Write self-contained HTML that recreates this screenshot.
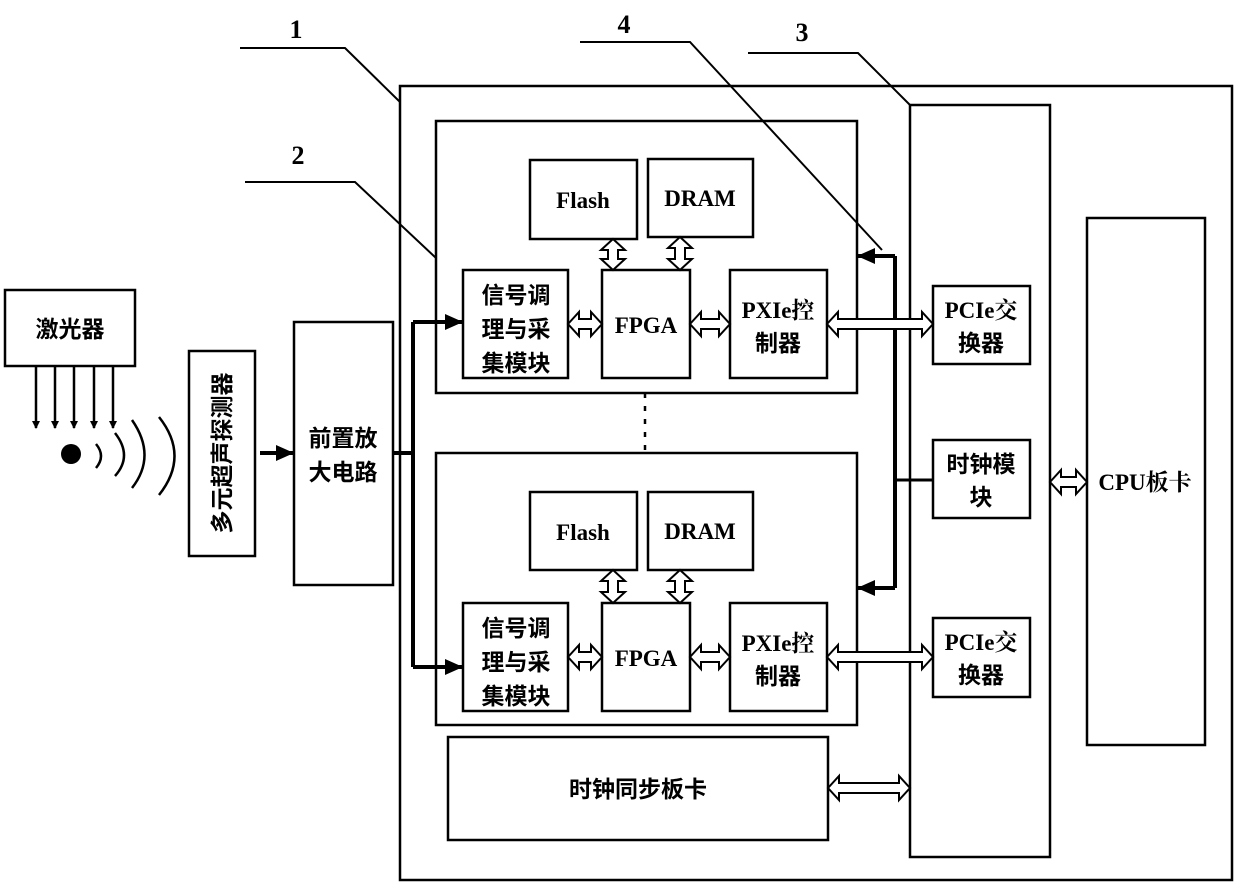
<!DOCTYPE html>
<html><head><meta charset="utf-8"><style>
html,body{margin:0;padding:0;background:#fff;}
svg{display:block;}
text{font-family:"Liberation Serif","Noto Serif CJK SC","Noto Sans CJK SC",serif;font-weight:bold;fill:#000;}
.c{font-family:"Liberation Sans","Noto Sans CJK SC",sans-serif;font-weight:bold;}
</style></head><body>
<svg width="1240" height="888" viewBox="0 0 1240 888" xmlns="http://www.w3.org/2000/svg">
<defs>
<marker id="ahs" markerWidth="8" markerHeight="8" refX="7" refY="4" orient="auto" markerUnits="userSpaceOnUse">
<path d="M0,0 L8,4 L0,8 z" fill="#000"/></marker>
<marker id="ahb" markerWidth="18" markerHeight="16" refX="17" refY="8" orient="auto" markerUnits="userSpaceOnUse">
<path d="M0,0 L18,8 L0,16 z" fill="#000"/></marker>
</defs>
<g fill="none" stroke="#000" stroke-width="2.5">
<rect x="400" y="86" width="832" height="794"/>
<rect x="910" y="105" width="140" height="752"/>
<rect x="1087" y="218" width="118" height="527"/>
<rect x="436" y="121" width="421" height="272"/>
<rect x="436" y="453" width="421" height="272"/>
<rect x="530" y="160" width="107" height="79"/>
<rect x="648" y="159" width="105" height="78"/>
<rect x="463" y="270" width="105" height="108"/>
<rect x="602" y="270" width="88" height="108"/>
<rect x="730" y="270" width="97" height="108"/>
<rect x="530" y="492" width="107" height="78"/>
<rect x="648" y="492" width="105" height="78"/>
<rect x="463" y="603" width="105" height="108"/>
<rect x="602" y="603" width="88" height="108"/>
<rect x="730" y="603" width="97" height="108"/>
<rect x="933" y="286" width="97" height="78"/>
<rect x="933" y="440" width="97" height="78"/>
<rect x="933" y="618" width="97" height="79"/>
<rect x="448" y="737" width="380" height="103"/>
<rect x="5" y="290" width="130" height="76"/>
<rect x="189" y="351" width="66" height="205"/>
<rect x="294" y="322" width="99" height="263"/>
<polyline points="240,48 345,48 400,102" stroke-width="2"/>
<polyline points="245,182 355,182 436,258" stroke-width="2"/>
<polyline points="580,42 690,42 882,250" stroke-width="2"/>
<polyline points="748,53 858,53 910,105" stroke-width="2"/>
<line x1="645" y1="393" x2="645" y2="453" stroke-dasharray="5,8"/>
</g>
<g fill="none" stroke="#000" stroke-width="4">
<polyline points="393,453 413,453"/>
<line x1="413" y1="322" x2="413" y2="667"/>
<line x1="413" y1="322" x2="462" y2="322" marker-end="url(#ahb)"/>
<line x1="413" y1="667" x2="462" y2="667" marker-end="url(#ahb)"/>
<line x1="895" y1="256" x2="895" y2="588"/>
<line x1="895" y1="256" x2="858" y2="256" marker-end="url(#ahb)"/>
<line x1="895" y1="588" x2="858" y2="588" marker-end="url(#ahb)"/>
<line x1="895" y1="480" x2="933" y2="480" stroke-width="3"/>
<line x1="260" y1="453" x2="293" y2="453" marker-end="url(#ahb)"/>
</g>
<g stroke="#000" stroke-width="2.5">
<line x1="36" y1="366" x2="36" y2="428" marker-end="url(#ahs)"/>
<line x1="55" y1="366" x2="55" y2="428" marker-end="url(#ahs)"/>
<line x1="74" y1="366" x2="74" y2="428" marker-end="url(#ahs)"/>
<line x1="94" y1="366" x2="94" y2="428" marker-end="url(#ahs)"/>
<line x1="113" y1="366" x2="113" y2="428" marker-end="url(#ahs)"/>
</g>
<circle cx="71" cy="454" r="10" fill="#000"/>
<g fill="none" stroke="#000" stroke-width="2.5">
<path d="M96,444 Q106,456 96,468"/>
<path d="M115,433 Q133,456 115,476"/>
<path d="M132,420 Q157,456 132,488"/>
<path d="M159,417 Q190,456 159,495"/>
</g>
<g fill="#fff" stroke="#000" stroke-width="2">
<polygon points="568,324 579,312 579,319 591,319 591,312 602,324 591,336 591,329 579,329 579,336"/>
<polygon points="690,324 701,312 701,319 719,319 719,312 730,324 719,336 719,329 701,329 701,336"/>
<polygon points="827,324 838,312 838,319 922,319 922,312 933,324 922,336 922,329 838,329 838,336"/>
<polygon points="568,657 579,645 579,652 591,652 591,645 602,657 591,669 591,662 579,662 579,669"/>
<polygon points="690,657 701,645 701,652 719,652 719,645 730,657 719,669 719,662 701,662 701,669"/>
<polygon points="827,657 838,645 838,652 922,652 922,645 933,657 922,669 922,662 838,662 838,669"/>
<polygon points="828,788 839,776 839,783 899,783 899,776 910,788 899,800 899,793 839,793 839,800"/>
<polygon points="1050,482 1061,470 1061,477 1076,477 1076,470 1087,482 1076,494 1076,487 1061,487 1061,494"/>
<polygon points="613,239 601,250 608,250 608,259 601,259 613,270 625,259 618,259 618,250 625,250"/>
<polygon points="680,237 668,248 675,248 675,259 668,259 680,270 692,259 685,259 685,248 692,248"/>
<polygon points="613,570 601,581 608,581 608,592 601,592 613,603 625,592 618,592 618,581 625,581"/>
<polygon points="680,570 668,581 675,581 675,592 668,592 680,603 692,592 685,592 685,581 692,581"/>
</g>
<g font-size="23">
<text x="583" y="208" text-anchor="middle">Flash</text>
<text x="700" y="206" text-anchor="middle">DRAM</text>
<text x="646" y="333" text-anchor="middle">FPGA</text>
<text x="583" y="540" text-anchor="middle">Flash</text>
<text x="700" y="539" text-anchor="middle">DRAM</text>
<text x="646" y="666" text-anchor="middle">FPGA</text>
<text x="1145" y="490" text-anchor="middle">CPU板卡</text>
</g>
<g font-size="23" text-anchor="middle">
<text class="c" x="516" y="303">信号调</text>
<text class="c" x="516" y="337">理与采</text>
<text class="c" x="516" y="371">集模块</text>
<text class="c" x="516" y="636">信号调</text>
<text class="c" x="516" y="670">理与采</text>
<text class="c" x="516" y="704">集模块</text>
<text x="778" y="318">PXIe控</text>
<text class="c" x="778" y="351">制器</text>
<text x="778" y="651">PXIe控</text>
<text class="c" x="778" y="684">制器</text>
<text x="981" y="318">PCIe交</text>
<text class="c" x="981" y="351">换器</text>
<text class="c" x="981" y="472">时钟模</text>
<text class="c" x="981" y="505">块</text>
<text x="981" y="650">PCIe交</text>
<text class="c" x="981" y="683">换器</text>
<text class="c" x="638" y="797">时钟同步板卡</text>
<text class="c" x="70" y="337">激光器</text>
<text class="c" x="343" y="446">前置放</text>
<text class="c" x="343" y="480">大电路</text>
<text class="c" x="0" y="0" transform="translate(230,453) rotate(-90)">多元超声探测器</text>
</g>
<g font-size="26" text-anchor="middle">
<text x="296" y="38">1</text>
<text x="298" y="164">2</text>
<text x="624" y="33">4</text>
<text x="802" y="41">3</text>
</g>
</svg>
</body></html>
